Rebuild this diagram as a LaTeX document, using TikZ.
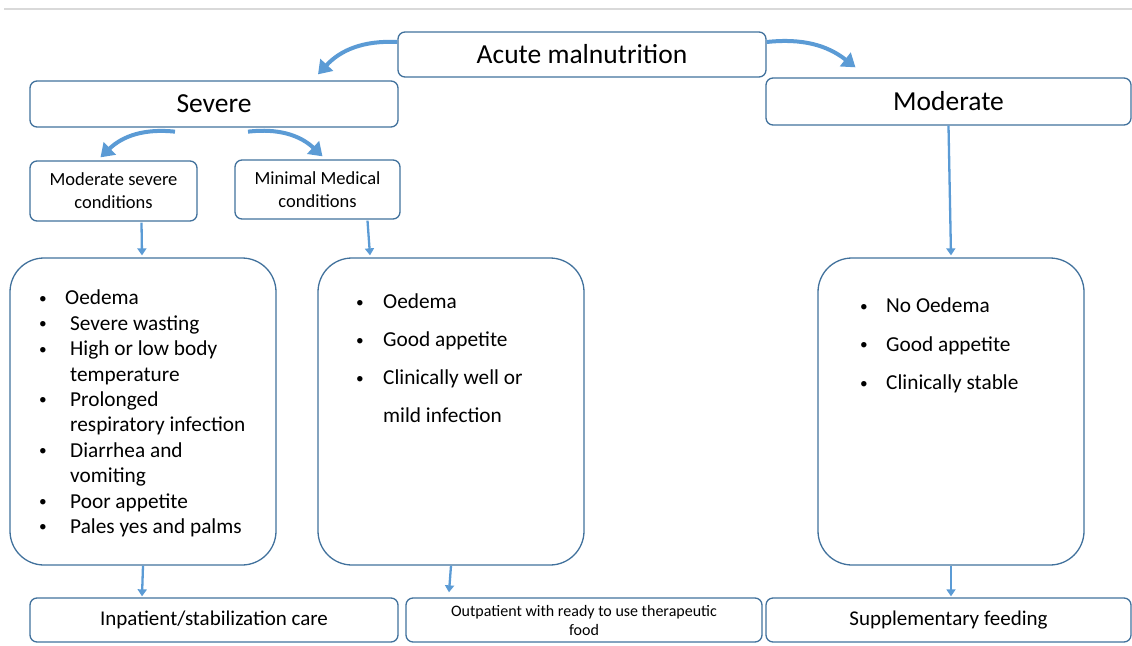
\documentclass[tikz,border=0pt]{standalone}
\usepackage{fontspec}
\setmainfont{Carlito}
\usetikzlibrary{arrows.meta}

\definecolor{boxblue}{HTML}{41719C}
\definecolor{arrowblue}{HTML}{5B9BD5}
\newcommand{\bul}[1][30pt]{\makebox[#1][l]{\hspace{1pt}\raisebox{1.6pt}{\scalebox{0.72}{\textbullet}}}}

\begin{document}
\begin{tikzpicture}[x=1pt, y=-1pt,
        box/.style={draw=boxblue, line width=1.3pt, rounded corners=7pt, inner sep=0pt, align=center},
        bigbox/.style={draw=boxblue, line width=1.3pt, rounded corners=34pt, minimum width=266pt, minimum height=307pt},
        bendarrow/.style={arrowblue, line width=4pt, -{Triangle[length=13pt,width=17pt]}},
        thinarrow/.style={arrowblue, line width=2.3pt, -{Triangle[length=7pt,width=9pt]}},
        list/.style={anchor=north west, align=left, inner sep=0pt}]
        \useasboundingbox (0,0) rectangle (1132,645);
        \draw[black!15, line width=2pt] (4,9) -- (1132,9);

        \node[box, minimum width=368pt, minimum height=45pt, font=\fontsize{27.5}{33}\selectfont] (acute) at (582, 54.5) {Acute malnutrition};
        \node[box, minimum width=368pt, minimum height=46pt, font=\fontsize{27.5}{33}\selectfont] (severe) at (214, 104) {Severe};
        \node[box, minimum width=365pt, minimum height=47pt, font=\fontsize{27.5}{33}\selectfont] (moderate) at (948.5, 101.5) {Moderate};

        \node[box, minimum width=167pt, minimum height=60pt, font=\fontsize{18.5}{23}\selectfont] (modsev) at (113.5, 191) {Moderate severe\\conditions};
        \node[box, minimum width=165pt, minimum height=59pt, font=\fontsize{18.5}{23}\selectfont] (minmed) at (317.5, 189.5) {Minimal Medical\\conditions};

        \node[bigbox] (signs_a) at (143, 411.5) {};
        \node[bigbox] (signs_b) at (451, 411.5) {};
        \node[bigbox] (signs_c) at (951, 411.5) {};

        \node[list, font=\fontsize{21.3}{25.4}\selectfont] (list_a) at (38, 290) {\bul[27pt]Oedema\\
            \bul[32pt]Severe wasting\\
            \bul[32pt]High or low body\\
            \hspace*{32pt}temperature\\
            \bul[32pt]Prolonged\\
            \hspace*{32pt}respiratory infection\\
            \bul[32pt]Diarrhea and\\
            \hspace*{32pt}vomiting\\
            \bul[32pt]Poor appetite\\
            \bul[32pt]Pales yes and palms};
        \node[list, font=\fontsize{21.3}{38}\selectfont] (list_b) at (355, 294) {\bul[28pt]Oedema\\
            \bul[28pt]Good appetite\\
            \bul[28pt]Clinically well or\\
            \hspace*{28pt}mild infection};
        \node[list, font=\fontsize{21.3}{38.5}\selectfont] (list_c) at (859, 298) {\bul[27pt]No Oedema\\
            \bul[27pt]Good appetite\\
            \bul[27pt]Clinically stable};

        \node[box, minimum width=368pt, minimum height=44pt, font=\fontsize{21}{25}\selectfont] (inpatient) at (214, 620) {Inpatient/stabilization care};
        \node[box, minimum width=356pt, minimum height=44pt, font=\fontsize{16}{19}\selectfont] (outpatient) at (584, 620) {Outpatient with ready to use therapeutic\\food};
        \node[box, minimum width=365pt, minimum height=44pt, font=\fontsize{21}{25}\selectfont] (supp) at (948.5, 620) {Supplementary feeding};

        % curved arrows
        \draw[bendarrow] ([yshift=12.5pt]acute.west) to[bend right=25] ([xshift=104pt, yshift=6pt]severe.north);
        \draw[bendarrow] ([yshift=12.5pt]acute.east) to[bend left=22] ([xshift=-93pt, yshift=10pt]moderate.north);
        \draw[bendarrow] ([xshift=-39pt, yshift=-4pt]severe.south) to[bend right=25] ([xshift=-13pt, yshift=3pt]modsev.north);
        \draw[bendarrow] ([xshift=34pt, yshift=-4pt]severe.south) to[bend left=25] ([xshift=5pt, yshift=3pt]minmed.north);

        % straight arrows
        \draw[thinarrow] ([xshift=28pt, yshift=-1pt]modsev.south) -- ([xshift=-1pt, yshift=2pt]signs_a.north);
        \draw[thinarrow] ([xshift=50pt, yshift=-1pt]minmed.south) -- ([xshift=-81pt, yshift=2pt]signs_b.north);
        \draw[thinarrow] (moderate.south) -- ([yshift=2pt]signs_c.north);
        \draw[thinarrow] (signs_a.south) -- ([xshift=-72pt, yshift=1pt]inpatient.north);
        \draw[thinarrow] (signs_b.south) -- ([xshift=-135pt, yshift=5pt]outpatient.north);
        \draw[thinarrow] (signs_c.south) -- ([xshift=2.5pt, yshift=1pt]supp.north);
    \end{tikzpicture}
\end{document}
